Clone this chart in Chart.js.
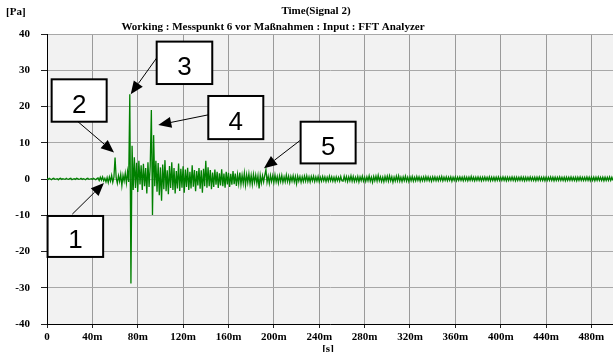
<!DOCTYPE html>
<html>
<head>
<meta charset="utf-8">
<script src="https://cdn.jsdelivr.net/npm/chart.js@4.4.1/dist/chart.umd.min.js"></script>
<style>
    body { margin: 0; background: #fff; }
    #wrap { width: 613px; height: 352px; }
</style>
</head>
<body>
<div id="wrap"><canvas id="trend" width="613" height="352"></canvas></div>
<script>
// one sample per millisecond
const sampleStep = 1

// 0 .. 44 ms, before the event
const quietValues = [
    0.1, -0.1, 0.2, 0, -0.2, 0.1, 0.2, -0.1, 0, 0.1, -0.2, 0.1, 0.2, -0.1, 0.1, 0, -0.1, 0.2, 0, -0.1,
    0.1, 0.2, -0.2, 0, 0.1, -0.1, 0.2, 0.1, -0.1, 0, 0.2, -0.1, 0.1, 0, -0.2, 0.1, 0.2, -0.1, 0, 0.1,
    -0.1, 0.2, 0, -0.2, 0.1
]

// 45 .. 72 ms, onset (peak 2 at 60 ms)
const onsetValues = [
    0.3, -0.4, 0.5, -0.3, 0.6, -0.5, 0.2, -0.8, 0.4, -1.0,
    0.6, -0.6, 1.0, -0.9, 0.5, 5.9, 0.3, -1.2, 0.9, -0.7,
    1.3, -1.8, 1.0, -0.6, 1.6, -1.1, 2.0, -0.8
]

// 73 .. 190 ms, main burst (peaks 3 and 4)
const burstValues = [
    23.4, -28.8, 9.2, -3, 6, -2.5, 4.5, -3.6, 5, -1.5,
    3.8, -3, 4.2, -2, 3, -4, 4.6, -2.2, 3.5, 19,
    -9.9, 12.1, -2, 5, -3.5, 4.4, -4.5, 3.2, -6, 4,
    -2.8, 5.2, -3.4, 2.4, -4.2, 3.6, -2.5, 4.6, -3, 3,
    -4, 2.2, -2.6, 4.3, -3.3, 2.8, -2.4, 3.5, -3.8, 2.6,
    -2.2, 3.1, -3, 2, -2.6, 3.8, -2.1, 2.5, -3.4, 2.2,
    -1.8, 3, -2.7, 2.4, -3.8, 2.8, -2, 5, -2.4, 3.2,
    -2, 2.5, -2.8, 1.8, -2.2, 2.6, -1.6, 2, -2.5, 1.6,
    -1.8, 2.7, -2, 1.5, -2.4, 2, -1.5, 1.7, -2.2, 1.4,
    -1.6, 2.2, -1.4, 1.5, -1.9, 1.2, -1.3, 1.8, -1.5, 1.1,
    -1.2, 1.6, -1.7, 1.2, -1, 1.4, -1.3, 1, -1.5, 1.3,
    -0.9, 1.1, -1.2, 0.9, -2.6, 1.0, -1.1, 0.9
]

// 191 .. 260 ms, decay (peak 5 at 193 ms)
const decayValues = [
    -0.8, 1.1, 2.6, -0.9, 0.8, -1.2, 1.0, -0.7, 0.9, -1.0,
    1.1, -0.8, 0.7, -1.1, 0.9, -0.7, 1.0, -0.9, 0.6, -0.8,
    1.1, -0.7, 0.8, -1.0, 0.7, -0.6, 0.9, -0.8, 0.7, -1.3,
    0.8, -0.6, 0.7, -0.9, 0.6, -0.7, 0.8, -0.6, 0.9, -0.7,
    0.6, -0.8, 0.7, -0.5, 0.8, -0.7, 0.6, -0.6, 0.7, -0.8,
    0.5, -0.6, 0.7, -0.5, 0.6, -0.7, 0.5, -0.6, 0.8, -0.5,
    0.6, -0.6, 0.5, -0.7, 0.6, -0.5, 0.5, -0.6, 0.7, -0.5
]

// 261 .. 499 ms, tail
const tailValues = [
    -0.6, 0.8, -0.5, 0.7, -0.7, 0.6, -0.5, 0.9, -0.6, 0.7, -0.7, 0.5, -0.6, 0.7, -0.8, 0.6, -0.5, 0.8, -0.6, 0.5,
    -0.7, 0.6, -0.5, 0.9, -0.6, 0.5, -0.9, 0.7, -0.5, 0.8, -0.6, 1.0, -0.5, 0.6, -0.7, 0.5, -0.8, 0.7, -0.5, 0.8,
    -0.6, 0.9, -0.5, 0.6, -0.9, 0.5, -0.6, 0.8, -0.5, 0.9, -0.6, 0.5, -0.7, 0.6, -0.5, 0.8, -0.6, 0.5, -0.7, 0.6,
    -0.5, 0.7, -0.6, 0.5, -0.5, 0.7, -0.4, 0.6, -0.6, 0.5, -0.5, 0.6, -0.5, 0.7, -0.4, 0.6, -0.5, 0.5, -0.6, 0.6,
    -0.4, 0.6, -0.5, 0.5, -0.5, 0.6, -0.4, 0.7, -0.5, 0.5, -0.4, 0.6, -0.5, 0.5, -0.4, 0.6, -0.6, 0.5, -0.4, 0.6,
    -0.5, 0.5, -0.4, 0.6, -0.4, 0.5, -0.5, 0.6, -0.4, 0.5, -0.5, 0.5, -0.4, 0.7, -0.4, 0.5, -0.5, 0.5, -0.4, 0.6,
    -0.4, 0.5, -0.5, 0.5, -0.4, 0.6, -0.4, 0.5, -0.4, 0.6, -0.5, 0.5, -0.4, 0.5, -0.5, 0.5, -0.4, 0.6, -0.4, 0.5,
    -0.4, 0.6, -0.4, 0.5, -0.5, 0.5, -0.4, 0.5, -0.4, 0.6, -0.4, 0.5, -0.5, 0.5, -0.4, 0.5, -0.4, 0.6, -0.4, 0.5,
    -0.5, 0.5, -0.4, 0.5, -0.4, 0.6, -0.4, 0.5, -0.4, 0.5, -0.5, 0.5, -0.4, 0.6, -0.4, 0.5, -0.4, 0.5, -0.5, 0.5,
    -0.4, 0.5, -0.4, 0.6, -0.4, 0.5, -0.5, 0.5, -0.4, 0.5, -0.4, 0.6, -0.4, 0.5, -0.4, 0.5, -0.5, 0.5, -0.4, 0.5,
    -0.4, 0.6, -0.4, 0.5, -0.4, 0.5, -0.5, 0.5, -0.4, 0.6, -0.4, 0.5, -0.4, 0.5, -0.4, 0.6, -0.4, 0.5, -0.5, 0.5,
    -0.4, 0.5, -0.5, 0.5, -0.4, 0.6, -0.4, 0.5, -0.4, 0.5, -0.5, 0.5, -0.4, 0.5, -0.4, 0.6, -0.4, 0.5, -0.4
]

const xTicks = [0, 40, 80, 120, 160, 200, 240, 280, 320, 360, 400, 440, 480]
const yTicks = [-40, -30, -20, -10, 0, 10, 20, 30, 40]
const xMax = 499

const unitY = '[Pa]'
const unitX = '[s]'
const title = 'Time(Signal 2)'
const subtitle = 'Working : Messpunkt 6 vor Maßnahmen : Input : FFT Analyzer'

// numbered callouts, box corners and arrow ends in ms / Pa
const callouts = [
    { label: '1', box: [0.5, 49.5, -10.2, -21.5], from: [22.3, -9.7], to: [50.2, -1.1] },
    { label: '2', box: [4.1, 52.6, 27.5, 15.8], from: [27.3, 15.8], to: [59.1, 7.3] },
    { label: '3', box: [96.7, 145.7, 37.9, 26.2], from: [96.7, 33.4], to: [73.8, 23.4] },
    { label: '4', box: [142.2, 190.7, 22.9, 11.0], from: [142.2, 17.7], to: [98.1, 14.9] },
    { label: '5', box: [223.6, 272.1, 15.8, 4.3], from: [223, 10.6], to: [191.3, 2.95] }
]

const signal = [].concat(quietValues, onsetValues, burstValues, decayValues, tailValues)
const points = signal.map((v, i) => ({ x: i * sampleStep, y: v }))

Chart.defaults.font.family = '"Liberation Serif", "Times New Roman", serif'
Chart.defaults.color = '#000'

const backdrop = {
    id: 'backdrop',
    beforeDraw(chart) {
        const { ctx, chartArea: a } = chart
        ctx.save()
        ctx.fillStyle = '#f2f2f2'
        ctx.fillRect(a.left, a.top, a.right - a.left, a.bottom - a.top)
        ctx.restore()
    },
    afterDraw(chart) {
        const { ctx } = chart
        const sx = chart.scales.x
        const sy = chart.scales.y

        ctx.save()
        ctx.fillStyle = '#000'
        ctx.font = 'bold 11px "Liberation Serif"'
        ctx.textAlign = 'left'
        ctx.textBaseline = 'middle'
        ctx.fillText(unitY, 6, 12)
        ctx.textAlign = 'center'
        ctx.fillText(title, 316, 11)
        ctx.fillText(subtitle, 273, 27)
        ctx.fillText(unitX, 328, 349)

        callouts.forEach(c => {
            const x0 = sx.getPixelForValue(c.box[0])
            const x1 = sx.getPixelForValue(c.box[1])
            const y0 = sy.getPixelForValue(c.box[2])
            const y1 = sy.getPixelForValue(c.box[3])
            ctx.fillStyle = '#fff'
            ctx.fillRect(x0, y0, x1 - x0, y1 - y0)
            ctx.strokeStyle = '#000'
            ctx.lineWidth = 2
            ctx.strokeRect(x0, y0, x1 - x0, y1 - y0)

            ctx.fillStyle = '#000'
            ctx.font = '26px "Liberation Sans"'
            ctx.textBaseline = 'alphabetic'
            ctx.fillText(c.label, (x0 + x1) / 2, (y0 + y1) / 2 + 12)

            // arrow
            const ax = sx.getPixelForValue(c.from[0])
            const ay = sy.getPixelForValue(c.from[1])
            const bx = sx.getPixelForValue(c.to[0])
            const by = sy.getPixelForValue(c.to[1])
            const ang = Math.atan2(by - ay, bx - ax)
            const head = 13
            const half = 5.5
            const hx = bx - head * Math.cos(ang)
            const hy = by - head * Math.sin(ang)
            ctx.lineWidth = 1
            ctx.beginPath()
            ctx.moveTo(ax, ay)
            ctx.lineTo(hx, hy)
            ctx.stroke()
            ctx.beginPath()
            ctx.moveTo(bx, by)
            ctx.lineTo(hx + half * Math.sin(ang), hy - half * Math.cos(ang))
            ctx.lineTo(hx - half * Math.sin(ang), hy + half * Math.cos(ang))
            ctx.closePath()
            ctx.fill()
        })
        ctx.restore()
    }
}

const tickFont = { size: 11, weight: 'bold' }

new Chart(document.getElementById('trend'), {
    type: 'line',
    data: {
        datasets: [{
            data: points,
            borderColor: '#008000',
            borderWidth: 1.3,
            pointRadius: 0,
            tension: 0,
            fill: false
        }]
    },
    options: {
        responsive: false,
        animation: false,
        layout: { padding: { top: 34, left: 0, right: 0, bottom: 0 } },
        plugins: { legend: { display: false }, tooltip: { enabled: false } },
        scales: {
            x: {
                type: 'linear',
                min: 0,
                max: xMax,
                afterFit: s => { s.height = 28 },
                afterBuildTicks: s => { s.ticks = xTicks.map(v => ({ value: v })) },
                grid: { color: '#9a9a9a', tickColor: '#222', tickLength: 4 },
                border: { color: '#000', width: 1 },
                ticks: {
                    font: tickFont,
                    padding: 3,
                    maxRotation: 0,
                    autoSkip: false,
                    callback: v => v === 0 ? '0' : v + 'm'
                }
            },
            y: {
                min: -40,
                max: 40,
                afterFit: s => { s.width = 47 },
                afterBuildTicks: s => { s.ticks = yTicks.map(v => ({ value: v })) },
                grid: { color: '#a8a8a8', tickColor: '#222', tickLength: 6 },
                border: { color: '#000', width: 1 },
                ticks: { font: tickFont, padding: 11 }
            }
        }
    },
    plugins: [backdrop]
})
</script>
</body>
</html>
